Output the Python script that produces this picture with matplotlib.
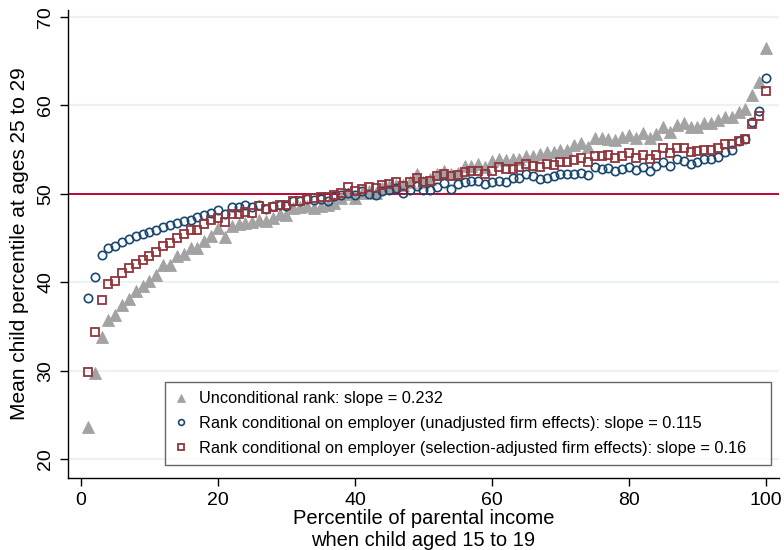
import matplotlib
matplotlib.use("Agg")
import matplotlib.pyplot as plt

# Percentile of parental income (1..100)
percentiles = list(range(1, 101))

# Mean child percentile at ages 25-29, unconditional rank
unconditional = [
    23.7, 29.8, 33.8, 35.8, 36.3, 37.4, 38.1, 39.0, 39.6, 40.2,
    40.8, 42.0, 42.0, 43.0, 43.2, 43.9, 43.9, 44.7, 45.3, 46.1,
    45.1, 46.4, 46.6, 46.7, 46.8, 47.0, 46.9, 47.3, 47.7, 47.6,
    48.4, 48.5, 48.6, 48.4, 48.6, 48.8, 49.0, 49.5, 50.0, 49.5,
    50.1, 50.3, 50.1, 50.7, 50.9, 51.0, 51.0, 51.4, 52.2, 51.4,
    51.7, 52.2, 52.6, 52.2, 52.4, 53.2, 53.2, 53.4, 53.0, 53.7,
    54.0, 53.8, 53.9, 53.9, 54.3, 54.3, 54.5, 54.7, 54.7, 55.0,
    55.0, 55.5, 55.8, 55.3, 56.3, 56.3, 56.2, 56.1, 56.4, 56.7,
    56.3, 56.9, 56.3, 56.8, 57.6, 57.0, 57.8, 58.0, 57.6, 57.6,
    58.0, 58.0, 58.4, 58.7, 58.7, 59.3, 59.6, 61.2, 62.6, 66.5,
]

# Rank conditional on employer, unadjusted firm effects
cond_unadjusted = [
    38.2, 40.6, 43.1, 43.9, 44.1, 44.6, 44.9, 45.2, 45.5, 45.7,
    45.9, 46.3, 46.5, 46.7, 46.9, 47.1, 47.4, 47.6, 47.8, 48.2,
    47.7, 48.5, 48.5, 48.8, 48.5, 48.7, 48.3, 48.6, 48.8, 48.6,
    49.2, 49.2, 49.4, 49.3, 49.4, 49.2, 49.8, 49.9, 50.1, 49.9,
    50.3, 50.0, 49.9, 50.3, 50.5, 50.7, 50.1, 50.5, 50.9, 50.4,
    50.4, 50.8, 51.2, 50.6, 51.1, 51.4, 51.5, 51.5, 51.1, 51.3,
    51.5, 51.4, 51.8, 51.8, 52.2, 52.0, 51.7, 51.8, 52.0, 52.2,
    52.2, 52.2, 52.4, 52.1, 53.0, 52.8, 52.9, 52.6, 52.8, 53.1,
    52.7, 53.0, 52.6, 53.2, 53.6, 53.2, 53.9, 53.7, 53.4, 53.6,
    54.0, 54.0, 54.2, 54.7, 55.0, 56.0, 56.2, 58.1, 59.4, 63.1,
]

# Rank conditional on employer, selection-adjusted firm effects
cond_adjusted = [
    29.9, 34.4, 38.0, 39.8, 40.2, 41.1, 41.6, 42.1, 42.5, 43.0,
    43.4, 44.1, 44.5, 45.0, 45.5, 45.9, 45.9, 46.6, 47.0, 47.3,
    46.8, 47.7, 47.7, 48.0, 47.8, 48.6, 48.3, 48.5, 48.8, 48.7,
    49.2, 49.2, 49.4, 49.5, 49.7, 49.7, 49.9, 50.1, 50.8, 50.3,
    50.6, 50.8, 50.7, 51.0, 51.1, 51.3, 50.9, 51.3, 51.8, 51.4,
    51.5, 52.0, 52.2, 52.0, 52.1, 52.5, 52.6, 52.6, 52.2, 52.6,
    53.0, 52.8, 52.8, 53.0, 53.4, 53.2, 53.0, 53.4, 53.3, 53.6,
    53.6, 53.8, 54.1, 53.6, 54.3, 54.3, 54.4, 54.1, 54.3, 54.6,
    54.1, 54.4, 53.9, 54.4, 55.2, 54.6, 55.2, 55.2, 54.7, 54.9,
    55.0, 55.0, 55.2, 55.7, 55.7, 56.0, 56.2, 57.9, 58.8, 61.6,
]

series_labels = [
    "Unconditional rank: slope = 0.232",
    "Rank conditional on employer (unadjusted firm effects): slope = 0.115",
    "Rank conditional on employer (selection-adjusted firm effects): slope = 0.16",
]

x_ticks = [0, 20, 40, 60, 80, 100]
y_ticks = [20, 30, 40, 50, 60, 70]
reference_level = 50

plt.rcParams["font.family"] = ["Liberation Sans", "DejaVu Sans"]

GRAY = "#a3a3a3"
NAVY = "#1a476f"
MAROON = "#90353b"
RED = "#c10534"
GRID = "#eaf2f3"

fig = plt.figure(figsize=(7.84, 5.5), dpi=100)
ax = fig.add_axes([0.0867, 0.131, 0.9069, 0.851])

ax.set_xlim(-1.9, 101.9)
ax.set_ylim(17.9, 70.8)

for yv in y_ticks:
    if yv != reference_level:
        ax.axhline(yv, color=GRID, lw=1.5, zorder=0)
ax.axhline(reference_level, color=RED, lw=1.4, zorder=1)

ax.plot(percentiles, unconditional, linestyle="none", marker="^", ms=8.6,
        mfc=GRAY, mec=GRAY, mew=0.6, label=series_labels[0], zorder=2)
ax.plot(percentiles, cond_unadjusted, linestyle="none", marker="o", ms=6.0,
        mfc="none", mec=NAVY, mew=1.2, label=series_labels[1], zorder=3)
ax.plot(percentiles, cond_adjusted, linestyle="none", marker="s", ms=6.0,
        mfc="none", mec=MAROON, mew=1.3, label=series_labels[2], zorder=4)

for side in ("top", "right"):
    ax.spines[side].set_visible(False)
for side in ("left", "bottom"):
    ax.spines[side].set_linewidth(1.0)
    ax.spines[side].set_color("black")

ax.set_xticks(x_ticks)
ax.set_yticks(y_ticks)
ax.tick_params(axis="both", direction="out", length=6, width=1.0,
               labelsize=14, colors="black", pad=4)
for lab in ax.get_yticklabels():
    lab.set_rotation(90)
    lab.set_va("center")

ax.set_xlabel("Percentile of parental income\nwhen child aged 15 to 19",
              fontsize=14.5, linespacing=1.2, labelpad=0)
ax.set_ylabel("Mean child percentile at ages 25 to 29", fontsize=15, labelpad=6)

# Legend box spans most of the lower plot area, entries left-aligned
leg = ax.legend(loc="lower left", bbox_to_anchor=(0.1364, 0.0278, 0.852, 0.17),
                mode="expand", frameon=True, fancybox=False, fontsize=11.8,
                markerscale=0.7, handlelength=0.8, handletextpad=0.7,
                labelspacing=0.6, borderpad=0.55, borderaxespad=0.0)
leg.get_frame().set_edgecolor("#404040")
leg.get_frame().set_linewidth(1.0)
leg.get_frame().set_facecolor("white")

fig.savefig("out.png", dpi=100, facecolor="white")
